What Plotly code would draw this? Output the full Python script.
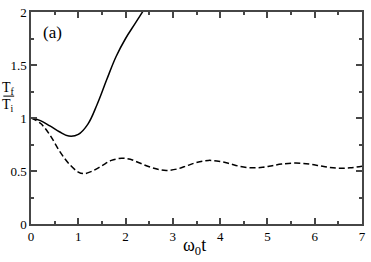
import plotly.graph_objects as go

t_solid = [0, 0.2, 0.4, 0.6, 0.8, 1.0, 1.2, 1.4, 1.6, 1.8, 2.0, 2.2, 2.4]
y_solid = [1, 0.975, 0.925, 0.87, 0.83, 0.845, 0.94, 1.13, 1.36, 1.58, 1.75, 1.89, 2.03]

t_dash = [0, 0.2, 0.4, 0.6, 0.8, 1.0, 1.12, 1.3, 1.5, 1.7, 1.92, 2.1, 2.3, 2.5, 2.7, 2.86,
          3.1, 3.3, 3.5, 3.75, 4.0, 4.2, 4.4, 4.65, 4.9, 5.1, 5.3, 5.6, 5.9, 6.1, 6.3, 6.5, 6.75, 7.0]
y_dash = [1, 0.95, 0.84, 0.69, 0.57, 0.49, 0.475, 0.50, 0.55, 0.60, 0.62, 0.61, 0.575, 0.54, 0.515, 0.505,
          0.52, 0.55, 0.58, 0.60, 0.59, 0.57, 0.545, 0.53, 0.535, 0.55, 0.565, 0.575, 0.565, 0.55, 0.535, 0.527, 0.53, 0.545]

x_ticks = [0, 1, 2, 3, 4, 5, 6, 7]
x_tick_labels = ["0", "1", "2", "3", "4", "5", "6", "7"]
y_ticks = [0, 0.5, 1, 1.5, 2]
y_tick_labels = ["0", "0.5", "1", "1.5", "2"]

FONT = "Liberation Serif"
AX = "rgb(70,70,70)"

W, H = 371, 262
L, R, T, B = 31, 5, 6, 38
pw, ph = W - L - R, H - T - B


def px(xp):
    return (xp - L) / pw


def py(yp):
    return (H - B - yp) / ph


fig = go.Figure()
fig.add_trace(go.Scatter(x=t_solid, y=y_solid, mode="lines",
                         line=dict(color="black", width=1.5, shape="spline", smoothing=1.1),
                         showlegend=False))
fig.add_trace(go.Scatter(x=t_dash, y=y_dash, mode="lines",
                         line=dict(color="black", width=1.5, dash="6px,3px", shape="spline"),
                         showlegend=False))

fig.update_layout(
    width=W, height=H,
    margin=dict(l=L, r=R, t=T, b=B),
    paper_bgcolor="white", plot_bgcolor="white",
    font=dict(family=FONT, size=13, color="black"),
    xaxis=dict(range=[0, 7], tickmode="array", tickvals=x_ticks, ticktext=x_tick_labels,
               ticks="inside", ticklen=6, tickwidth=1.5, tickcolor=AX,
               showline=True, linecolor=AX, linewidth=1.5, mirror="ticks", showgrid=False,
               zeroline=False, tickfont=dict(size=13, family=FONT, color="black"),
               minor=dict(dtick=0.5, tick0=0, ticks="inside", ticklen=3, tickwidth=1.5, tickcolor=AX)),
    yaxis=dict(range=[0, 2], tickmode="array", tickvals=y_ticks, ticktext=y_tick_labels,
               ticks="inside", ticklen=6, tickwidth=1.5, tickcolor=AX,
               showline=True, linecolor=AX, linewidth=1.5, mirror="ticks",
               showgrid=False, zeroline=False, ticklabeloverflow="allow",
               tickfont=dict(size=13, family=FONT, color="black"),
               minor=dict(dtick=0.25, tick0=0, ticks="inside", ticklen=3, tickwidth=1.5, tickcolor=AX)),
)

fig.add_annotation(text="(a)", x=px(53), y=py(27), xref="paper", yref="paper", showarrow=False,
                   xanchor="center", yanchor="middle", font=dict(size=17, family=FONT))
fig.add_annotation(text="T<sub>f</sub>", x=px(8), y=py(85), xref="paper", yref="paper",
                   xanchor="center", yanchor="middle",
                   showarrow=False, font=dict(size=14, family=FONT))
fig.add_annotation(text="T<sub>i</sub>", x=px(8), y=py(102), xref="paper", yref="paper",
                   xanchor="center", yanchor="middle",
                   showarrow=False, font=dict(size=14, family=FONT))
fig.add_shape(type="line", x0=px(3), x1=px(14), y0=py(92.5), y1=py(92.5), xref="paper", yref="paper",
              line=dict(color="black", width=1))
fig.add_annotation(text="ω<sub>0</sub>t", x=px(196), y=py(247), xref="paper", yref="paper",
                   xanchor="center", yanchor="middle",
                   showarrow=False, font=dict(size=18, family=FONT))

fig.write_html("out.html", config={"displayModeBar": False},
               post_script="document.body.style.margin='0';document.body.style.padding='0';")
